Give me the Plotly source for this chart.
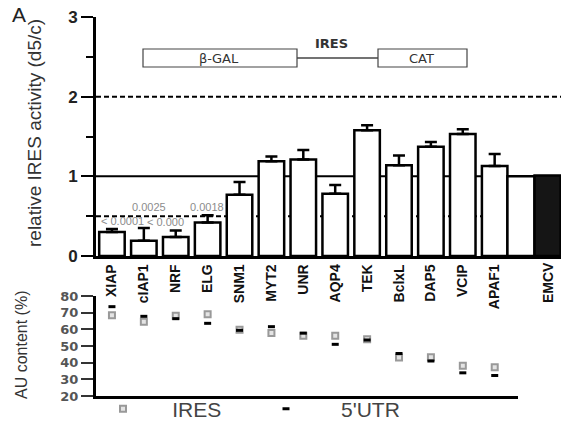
import plotly.graph_objects as go

# ---------------- data ----------------
GENES = ["XIAP", "cIAP1", "NRF", "ELG", "SNM1", "MYT2", "UNR", "AQP4",
         "TEK", "BclxL", "DAP5", "VCIP", "APAF1"]
ACTIVITY = [0.30, 0.19, 0.24, 0.42, 0.77, 1.19, 1.21, 0.78, 1.58, 1.14, 1.37, 1.53, 1.13]
ACTIVITY_ERR = [0.04, 0.16, 0.08, 0.09, 0.16, 0.06, 0.12, 0.11, 0.06, 0.12, 0.06, 0.06, 0.15]
CONTROL_LABEL = "EMCV"
CONTROL_REF = [1.0]
EMCV_VALUE = [1.01]
AU_IRES = [68.4, 64.6, 68.2, 69.0, 59.8, 57.8, 56.1, 56.1, 54.0, 43.1, 43.3, 38.2, 37.2]
AU_UTR = [73.6, 67.8, 66.4, 63.6, 59.4, 61.6, 57.7, 51.0, 53.6, 45.5, 41.0, 33.9, 32.3]
P_LABELS = ["0.0025", "0.0018", "< 0.0001", "< 0.000"]
Y1_TICKS = [0, 1, 2, 3]
Y2_TICKS = [20, 30, 40, 50, 60, 70, 80]

W, H = 561, 425


def fx(p):
    return p / W


def fy(p):
    return 1 - p / H


CATS = GENES + [CONTROL_LABEL]
fig = go.Figure()

fig.add_trace(go.Bar(
    x=GENES, y=ACTIVITY, width=0.8,
    marker=dict(color="white", line=dict(color="black", width=2.5)),
    error_y=dict(type="data", array=ACTIVITY_ERR, arrayminus=[0] * len(GENES),
                 symmetric=False, thickness=2.5, width=6, color="black"),
    xaxis="x", yaxis="y", showlegend=False))
fig.add_trace(go.Bar(
    x=[CONTROL_LABEL], y=CONTROL_REF, offset=-0.6, width=0.85,
    marker=dict(color="white", line=dict(color="black", width=2.5)),
    xaxis="x", yaxis="y", showlegend=False))
fig.add_trace(go.Bar(
    x=[CONTROL_LABEL], y=EMCV_VALUE, offset=0.25, width=0.82,
    marker=dict(color="#151515", line=dict(color="black", width=2.5)),
    xaxis="x", yaxis="y", showlegend=False))

fig.add_trace(go.Scatter(
    x=GENES, y=AU_IRES, mode="markers", name="\u00a0\u00a0\u00a0\u00a0\u00a0IRES",
    marker=dict(symbol="square", size=6, color="#e4e4e4",
                line=dict(color="#999999", width=2)),
    xaxis="x2", yaxis="y2"))
fig.add_trace(go.Scatter(
    x=GENES, y=AU_UTR, mode="markers", name="\u00a0\u00a0\u00a0\u00a0\u00a0\u00a05'UTR",
    marker=dict(symbol="line-ew-open", size=5, color="black",
                line=dict(color="black", width=3)),
    xaxis="x2", yaxis="y2"))

DASH = "5px,3px"
shapes = []
# reference lines (behind bars)
shapes.append(dict(type="line", xref="paper", yref="y", x0=fx(96), x1=1, y0=1, y1=1,
                   line=dict(color="black", width=2), layer="below"))
shapes.append(dict(type="line", xref="paper", yref="y", x0=fx(96), x1=1, y0=2, y1=2,
                   line=dict(color="black", width=2, dash=DASH), layer="below"))
shapes.append(dict(type="line", xref="paper", yref="y", x0=fx(96), x1=1, y0=0.5, y1=0.5,
                   line=dict(color="black", width=2, dash=DASH), layer="below"))
# construct diagram
shapes.append(dict(type="rect", xref="paper", yref="paper", x0=fx(143), x1=fx(297),
                   y0=fy(67), y1=fy(49), line=dict(color="#444", width=1.2)))
shapes.append(dict(type="line", xref="paper", yref="paper", x0=fx(297), x1=fx(378),
                   y0=fy(58), y1=fy(58), line=dict(color="#444", width=1.5)))
shapes.append(dict(type="rect", xref="paper", yref="paper", x0=fx(378), x1=fx(467),
                   y0=fy(67), y1=fy(49), line=dict(color="#444", width=1.2)))

ann = []


def label(text, px, py, font, **kw):
    d = dict(text=text, x=fx(px), y=fy(py), xref="paper", yref="paper",
             xanchor="center", yanchor="middle", showarrow=False, font=font)
    d.update(kw)
    ann.append(d)


label("\u03b2-GAL", 219, 58, dict(family="DejaVu Sans", size=13, color="#333"))
label("CAT", 421, 58, dict(family="DejaVu Sans", size=13, color="#333"))
label("IRES", 331, 43, dict(family="DejaVu Sans", size=13, color="#333", weight="bold"))
label("A", 19, 14, dict(family="Liberation Sans", size=21, color="#222"))
label("relative IRES activity (d5/c)", 34, 133,
      dict(family="Liberation Sans", size=19, color="#333"), textangle=-90)
label("AU content (%)", 21, 345,
      dict(family="Liberation Sans", size=16, color="#333"), textangle=-90)
pfont = dict(family="Liberation Sans", size=11, color="#8c8c8c")
for txt, px, py in zip(P_LABELS, [149, 207, 122, 165], [207, 207, 221, 222]):
    label(txt, px, py, pfont)

# EMCV label (centred under the black bar)
tickfont = dict(family="Liberation Sans", size=14, color="#111", weight="bold")
ann.append(dict(text=CONTROL_LABEL, x=CONTROL_LABEL, xref="x", xshift=21, xanchor="center",
                y=fy(256), yref="paper", yanchor="top", yshift=-4,
                textangle=-90, showarrow=False, font=tickfont))

fig.update_layout(
    width=W, height=H, margin=dict(l=0, r=0, t=0, b=0, autoexpand=False),
    paper_bgcolor="white", plot_bgcolor="white",
    barmode="overlay", shapes=shapes, annotations=ann,
    xaxis=dict(domain=[fx(96), 1], type="category", categoryorder="array",
               categoryarray=CATS, range=[-0.5, 14.08], tickmode="array", tickvals=GENES,
               tickangle=-90, tickfont=tickfont, ticks="", showline=True,
               linecolor="black", linewidth=2.5, showgrid=False, zeroline=False,
               anchor="y"),
    yaxis=dict(domain=[fy(256), fy(17)], range=[0, 3], tickmode="array", tickvals=Y1_TICKS,
               ticks="outside", ticklen=12, tickwidth=2, tickcolor="black",
               minor=dict(tickvals=[0.5, 1.5, 2.5], ticks="outside", ticklen=7,
                          tickwidth=2, tickcolor="black"),
               showline=True, linecolor="black", linewidth=3, showgrid=False,
               zeroline=False, anchor="x",
               tickfont=dict(family="Liberation Sans", size=17, color="#222", weight="bold")),
    xaxis2=dict(domain=[fx(96), fx(518)], type="category", categoryorder="array",
                categoryarray=CATS, range=[-0.5, 12.73], showticklabels=False, ticks="",
                showline=True, linecolor="black", linewidth=2.5, showgrid=False,
                zeroline=False, anchor="y2"),
    yaxis2=dict(domain=[fy(396), fy(296)], range=[20, 80], tickmode="array",
                tickvals=Y2_TICKS, ticks="outside", ticklen=12, tickwidth=2,
                tickcolor="#333", showline=True, linecolor="black", linewidth=3,
                showgrid=False, zeroline=False, anchor="x2",
                tickfont=dict(family="DejaVu Sans", size=13, color="#555", weight="bold")),
    legend=dict(orientation="h", x=fx(103), y=fy(409), xanchor="left", yanchor="middle",
                font=dict(family="Liberation Sans", size=21, color="#444"),
                bgcolor="rgba(0,0,0,0)", entrywidth=118, entrywidthmode="pixels",
                itemclick=False),
)

fig.write_html("out.html")
